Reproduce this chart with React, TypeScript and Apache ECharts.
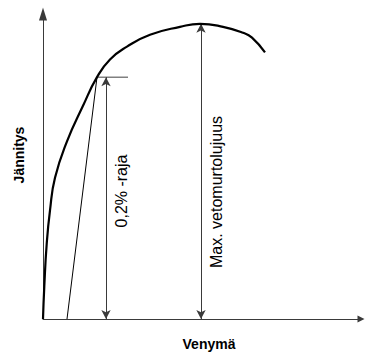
import React, { useEffect, useRef } from "react";
import * as echarts from "echarts";

// Schematic stress–strain curve (arbitrary units: strain, stress)
const curveStrain = [0, 1.3, 3.7, 7, 12, 24, 40, 54, 67, 84, 107, 137, 157, 180, 200, 209, 222];
const curveStress = [0, 33, 76, 110, 143, 180, 216, 245, 263, 276, 288, 296, 299, 296, 290, 285, 270];

// 0.2 % offset line (start on strain axis, end at yield point)
const offsetStrain = [24, 54];
const offsetStress = [0, 245];
// horizontal marker at yield level
const yieldMarkStrain = [54, 85];
const yieldStress = 245;

// dimension arrows
const yieldArrowStrain = 63;
const maxArrowStrain = 158;
const maxStress = 299;

const axisNames = { x: "Venymä", y: "Jännitys" };
const labels = { yieldLabel: "0,2% -raja", maxLabel: "Max. vetomurtolujuus" };

const FONT = "Liberation Sans, Arial, sans-serif";

export default function App() {
  const ref = useRef<HTMLDivElement>(null);
  useEffect(() => {
    if (!ref.current) return;
    const chart = echarts.init(ref.current, null, { renderer: "svg" });
    const axisColor = "#3a3a3a";
    chart.setOption({
      animation: false,
      grid: { left: 43, right: 4, top: 14, bottom: 33 },
      xAxis: {
        type: "value",
        min: 0,
        max: 318,
        name: axisNames.x,
        nameLocation: "middle",
        nameGap: 18,
        nameTextStyle: { fontFamily: FONT, fontWeight: "bold", fontSize: 14, color: "#000", padding: [0, 0, 0, 14] },
        axisLine: { show: true, lineStyle: { color: axisColor, width: 1 }, symbol: ["none", "triangle"], symbolSize: [7, 7] },
        axisTick: { show: false },
        axisLabel: { show: false },
        splitLine: { show: false },
      },
      yAxis: {
        type: "value",
        min: 0,
        max: 309,
        name: axisNames.y,
        nameLocation: "middle",
        nameGap: 17,
        nameTextStyle: { fontFamily: FONT, fontWeight: "bold", fontSize: 14, color: "#000", padding: [0, 0, 0, 23] },
        axisLine: { show: true, lineStyle: { color: axisColor, width: 1 }, symbol: ["none", "triangle"], symbolSize: [8, 13] },
        axisTick: { show: false },
        axisLabel: { show: false },
        splitLine: { show: false },
      },
      series: [
        {
          type: "line",
          smooth: 0.5,
          symbol: "none",
          data: curveStrain.map((x, i) => [x, curveStress[i]]),
          lineStyle: { color: "#000", width: 2.2 },
          z: 5,
        },
        {
          type: "line",
          symbol: "none",
          data: offsetStrain.map((x, i) => [x, offsetStress[i]]),
          lineStyle: { color: "#000", width: 1 },
        },
        {
          type: "line",
          symbol: "none",
          data: yieldMarkStrain.map((x) => [x, yieldStress]),
          lineStyle: { color: "#808080", width: 1.5 },
        },
        {
          type: "line",
          data: [],
          markLine: {
            silent: true,
            symbol: ["arrow", "arrow"],
            symbolSize: [7, 9],
            lineStyle: { color: axisColor, width: 1, type: "solid" },
            label: { show: false },
            data: [
              [{ coord: [yieldArrowStrain, 0] }, { coord: [yieldArrowStrain, yieldStress] }],
              [{ coord: [maxArrowStrain, 0] }, { coord: [maxArrowStrain, maxStress] }],
            ],
          },
        },
      ],
      graphic: [
        {
          type: "text",
          x: 121,
          y: 191,
          rotation: Math.PI / 2,
          style: { text: labels.yieldLabel, font: `16px ${FONT}`, fill: "#000", align: "center", verticalAlign: "middle" },
        },
        {
          type: "text",
          x: 216,
          y: 192,
          rotation: Math.PI / 2,
          style: { text: labels.maxLabel, font: `16px ${FONT}`, fill: "#000", align: "center", verticalAlign: "middle" },
        },
      ],
    });
    return () => chart.dispose();
  }, []);
  return <div ref={ref} style={{ width: 365, height: 356, position: "absolute", left: 0, top: 0 }} />;
}
